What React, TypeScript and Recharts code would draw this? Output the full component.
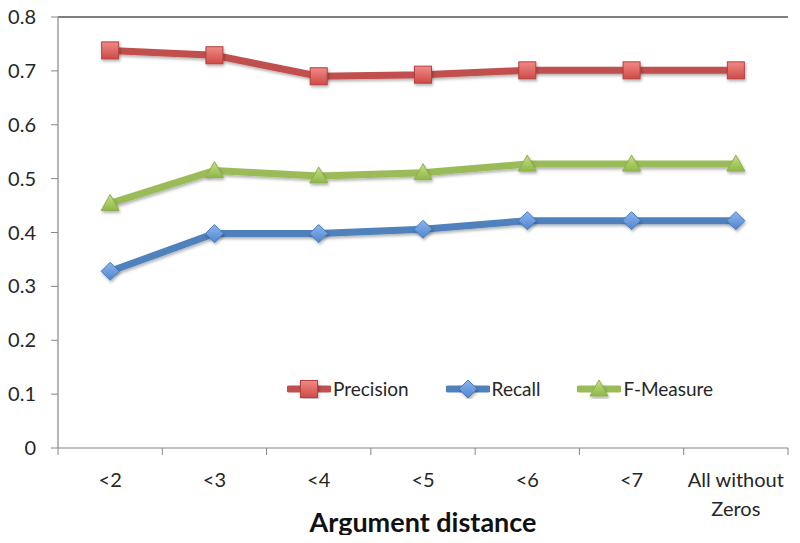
import { LineChart, Line, XAxis, YAxis, ReferenceLine } from "recharts";

const categories = ["<2", "<3", "<4", "<5", "<6", "<7", "All without Zeros"];
const precision = [0.738, 0.729, 0.69, 0.693, 0.701, 0.701, 0.701];
const recall = [0.328, 0.398, 0.398, 0.406, 0.422, 0.422, 0.422];
const fMeasure = [0.454, 0.515, 0.505, 0.511, 0.527, 0.527, 0.527];
const yTicks = [0, 0.1, 0.2, 0.3, 0.4, 0.5, 0.6, 0.7, 0.8];

const data = categories.map((name, i) => ({
  name,
  precision: precision[i],
  recall: recall[i],
  fMeasure: fMeasure[i],
}));

const FONT = "Lato, 'Open Sans', sans-serif";
const AXIS = "#868686";
const RED = "#C0504D";
const BLUE = "#4F81BD";
const GREEN = "#9BBB59";

type DotProps = { cx?: number; cy?: number };

function SquareMark({ cx = 0, cy = 0 }: DotProps) {
  return (
    <rect
      x={cx - 8.5}
      y={cy - 8.5}
      width={17}
      height={17}
      fill="url(#gRed)"
      stroke="#B5403D"
      strokeWidth={1}
      filter="url(#shadow)"
    />
  );
}

function DiamondMark({ cx = 0, cy = 0 }: DotProps) {
  return (
    <path
      d={`M${cx},${cy - 9}L${cx + 9},${cy}L${cx},${cy + 9}L${cx - 9},${cy}Z`}
      fill="url(#gBlue)"
      stroke="#4A7AB5"
      strokeWidth={1}
      filter="url(#shadow)"
    />
  );
}

function TriangleMark({ cx = 0, cy = 0 }: DotProps) {
  return (
    <path
      d={`M${cx},${cy - 9}L${cx + 9},${cy + 7}L${cx - 9},${cy + 7}Z`}
      fill="url(#gGreen)"
      stroke="#8FB04E"
      strokeWidth={1}
      filter="url(#shadow)"
    />
  );
}

// category labels, plus tick marks on the band edges (Excel style)
function CategoryTick({ x, y, payload, index }: any) {
  const half = payload.offset || 0;
  const words = String(payload.value).split(" ");
  const lines = words.length > 2 ? [words.slice(0, 2).join(" "), words.slice(2).join(" ")] : [payload.value];
  const isLast = index === categories.length - 1;
  return (
    <g>
      <line x1={x - half} x2={x - half} y1={y} y2={y + 7} stroke={AXIS} />
      {isLast && <line x1={x + half} x2={x + half} y1={y} y2={y + 7} stroke={AXIS} />}
      <text x={x} y={y} textAnchor="middle" fill="#262626" fontSize={20} fontFamily={FONT}>
        {lines.map((l: string, i: number) => (
          <tspan key={i} x={x} dy={i === 0 ? 39 : 29}>
            {l}
          </tspan>
        ))}
      </text>
    </g>
  );
}

function LegendItem({ color, label, mark }: { color: string; label: string; mark: string }) {
  return (
    <div style={{ display: "flex", alignItems: "center" }}>
      <svg width={44} height={20}>
        <line x1={2} x2={42} y1={10} y2={10} stroke={color} strokeWidth={7} strokeLinecap="round" />
        {mark === "square" && <SquareMark cx={22} cy={10} />}
        {mark === "diamond" && <DiamondMark cx={22} cy={10} />}
        {mark === "triangle" && <TriangleMark cx={22} cy={10} />}
      </svg>
      <span style={{ marginLeft: 2 }}>{label}</span>
    </div>
  );
}

export default function App() {
  return (
    <div style={{ position: "relative", width: 800, height: 543, margin: -8, background: "#fff" }}>
      <svg width={0} height={0} style={{ position: "absolute" }}>
        <defs>
          <linearGradient id="gRed" x1="0" y1="0" x2="0" y2="1">
            <stop offset="0%" stopColor="#F08A87" />
            <stop offset="100%" stopColor="#CF4A46" />
          </linearGradient>
          <linearGradient id="gBlue" x1="0" y1="0" x2="0" y2="1">
            <stop offset="0%" stopColor="#8DB6EE" />
            <stop offset="100%" stopColor="#4F85CF" />
          </linearGradient>
          <linearGradient id="gGreen" x1="0" y1="0" x2="0" y2="1">
            <stop offset="0%" stopColor="#C3E27F" />
            <stop offset="100%" stopColor="#8FB74A" />
          </linearGradient>
          <filter id="shadow" x="-50%" y="-50%" width="200%" height="200%">
            <feDropShadow dx={1} dy={2} stdDeviation={1.5} floodColor="#000" floodOpacity={0.3} />
          </filter>
        </defs>
      </svg>
      <LineChart
        width={800}
        height={543}
        data={data}
        margin={{ top: 17, right: 12, bottom: 0, left: 0 }}
        style={{ fontFamily: FONT }}
      >
        <XAxis
          dataKey="name"
          scale="band"
          interval={0}
          height={95}
          tickSize={0}
          tickMargin={0}
          tickLine={false}
          axisLine={{ stroke: AXIS, strokeWidth: 1.2 }}
          tick={<CategoryTick />}
          label={{
            value: "Argument distance",
            position: "insideBottom",
            offset: 11,
            fontSize: 27,
            fontWeight: 700,
            fill: "#111",
            fontFamily: FONT,
          }}
        />
        <YAxis
          domain={[0, 0.8]}
          ticks={yTicks}
          width={58}
          tickSize={7}
          tickMargin={15}
          tickLine={{ stroke: AXIS }}
          axisLine={{ stroke: AXIS, strokeWidth: 1.2 }}
          tickFormatter={(v: number) => (v === 0 ? "0" : v.toFixed(1))}
          tick={{ fill: "#262626", fontSize: 20, fontFamily: FONT }}
        />
        <ReferenceLine y={0.8} stroke="#000" strokeWidth={1.2} />
        <ReferenceLine x={categories[categories.length - 1]} position="end" stroke="#000" strokeWidth={1.2} />
        <Line
          dataKey="precision"
          stroke={RED}
          strokeWidth={7}
          isAnimationActive={false}
          filter="url(#shadow)"
          dot={(p: any) => <SquareMark key={p.key} cx={p.cx} cy={p.cy} />}
          activeDot={false}
        />
        <Line
          dataKey="recall"
          stroke={BLUE}
          strokeWidth={7}
          isAnimationActive={false}
          filter="url(#shadow)"
          dot={(p: any) => <DiamondMark key={p.key} cx={p.cx} cy={p.cy} />}
          activeDot={false}
        />
        <Line
          dataKey="fMeasure"
          stroke={GREEN}
          strokeWidth={7}
          isAnimationActive={false}
          filter="url(#shadow)"
          dot={(p: any) => <TriangleMark key={p.key} cx={p.cx} cy={p.cy} />}
          activeDot={false}
        />
      </LineChart>
      <div
        style={{
          position: "absolute",
          left: 287,
          top: 377,
          display: "flex",
          gap: 37,
          fontFamily: FONT,
          fontSize: 19,
          color: "#262626",
        }}
      >
        <LegendItem color={RED} label="Precision" mark="square" />
        <LegendItem color={BLUE} label="Recall" mark="diamond" />
        <LegendItem color={GREEN} label="F-Measure" mark="triangle" />
      </div>
    </div>
  );
}
